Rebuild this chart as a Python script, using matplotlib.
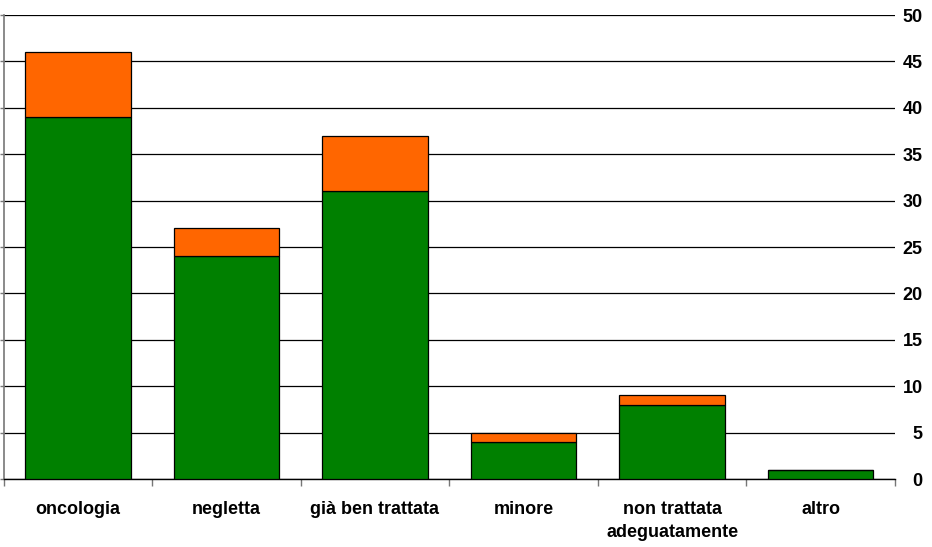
import numpy as np
import matplotlib.pyplot as plt

categorie = ['oncologia', 'negletta', 'già ben trattata', 'minore',
             'non trattata\nadeguatamente', 'altro']
verde = [39, 24, 31, 4, 8, 1]
arancio = [7, 3, 6, 1, 1, 0]

plt.rcParams['font.family'] = ['Liberation Sans', 'DejaVu Sans']

fig = plt.figure(figsize=(9.32, 5.47), dpi=100)
ax = fig.add_axes([3.5 / 932, 1 - 479 / 547, (895 - 3.5) / 932, (479 - 15) / 547])

x = np.arange(len(categorie))
ax.bar(x, verde, width=0.71, color='#008000', edgecolor='black', linewidth=0.9, zorder=3)
ax.bar(x, arancio, width=0.71, bottom=verde, color='#FF6600', edgecolor='black',
       linewidth=0.9, zorder=3)

ax.set_xlim(-0.5, len(categorie) - 0.5)
ax.set_ylim(0, 50)
ax.set_yticks(np.arange(0, 51, 5))
ax.yaxis.grid(True, color='black', linewidth=0.9)
ax.set_axisbelow(True)

# etichette a destra, tacche a sinistra
ax.tick_params(axis='y', left=True, right=False, labelleft=False, labelright=True,
               length=3, width=1, color='#777777', pad=17, labelsize=13)
for lab in ax.get_yticklabels():
    lab.set_horizontalalignment('right')
    lab.set_fontweight('bold')

# tacche delle categorie ai bordi
ax.set_xticks(np.arange(-0.5, len(categorie)), minor=False)
ax.set_xticklabels([])
ax.set_xticks(x, minor=True)
ax.set_xticklabels(categorie, minor=True, fontweight='bold', fontsize=13, linespacing=1.45)
ax.tick_params(axis='x', which='major', length=5, width=1, color='#777777')
ax.tick_params(axis='x', which='minor', length=0, pad=16)

for s in ['top', 'right']:
    ax.spines[s].set_visible(False)
ax.spines['left'].set_color('#777777')
ax.spines['left'].set_linewidth(1.2)
ax.spines['bottom'].set_color('black')
ax.spines['bottom'].set_linewidth(1)

fig.savefig('out.png', dpi=100)
